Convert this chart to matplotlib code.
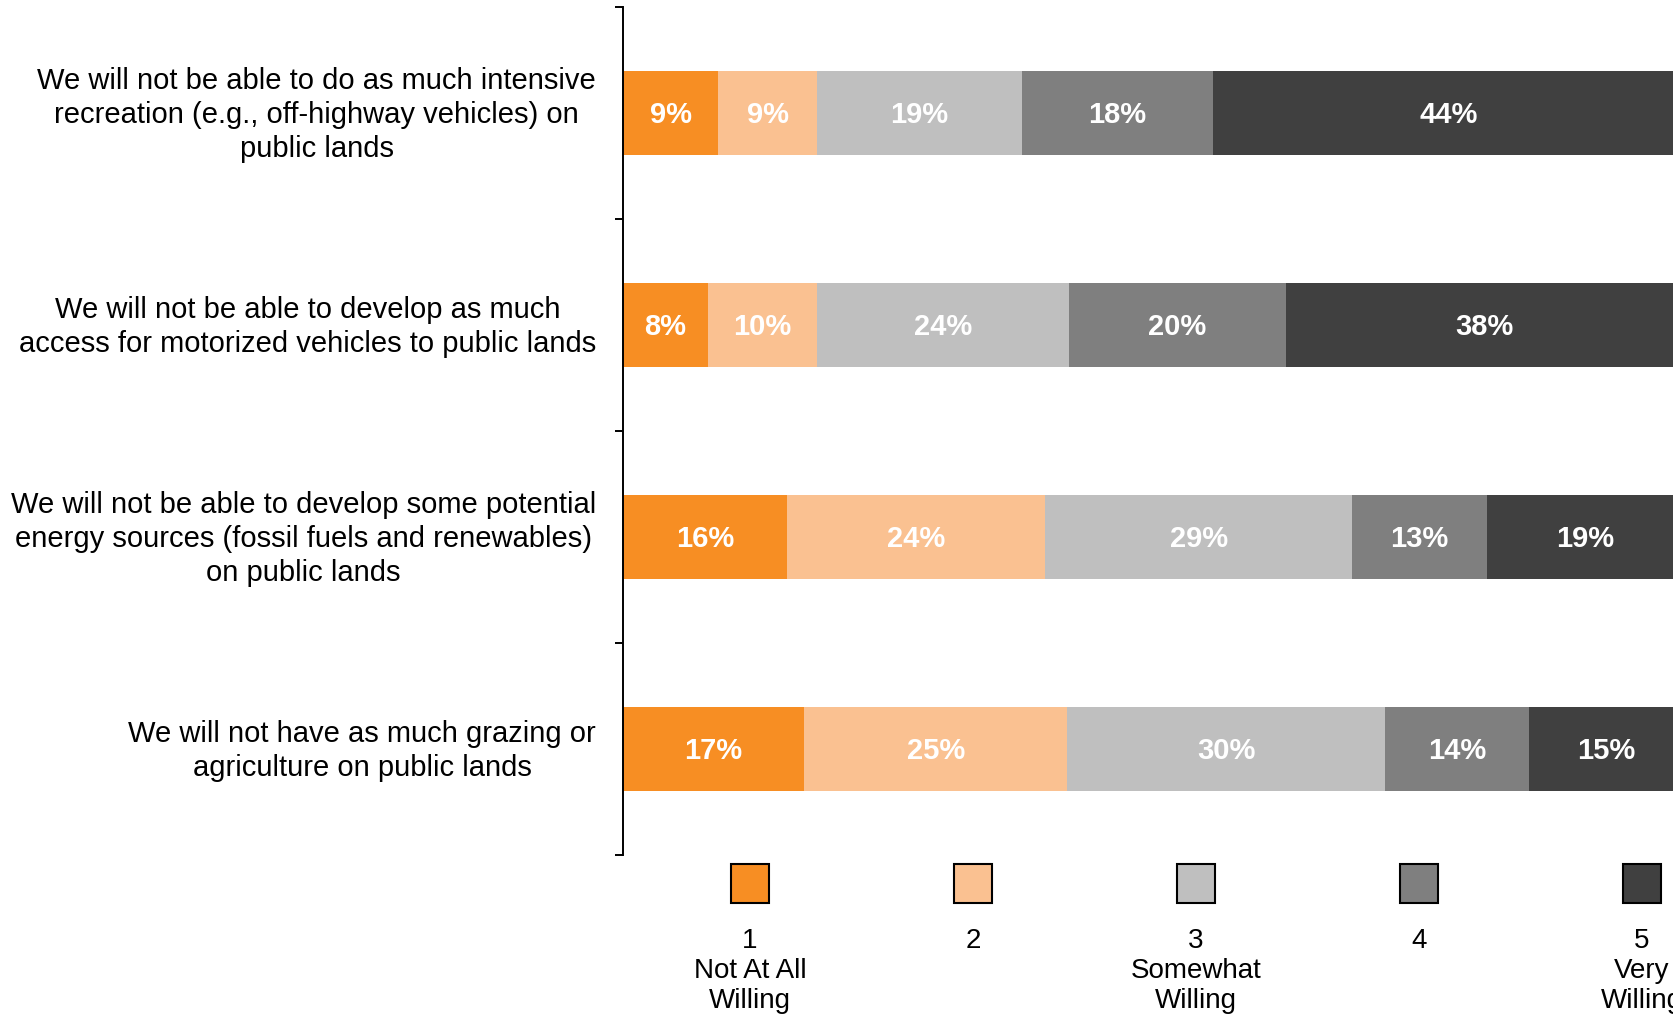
import matplotlib
matplotlib.use("Agg")
import matplotlib.pyplot as plt
from matplotlib.patches import Rectangle
import numpy as np

plt.rcParams['font.family'] = ['Liberation Sans', 'DejaVu Sans']

categories = [
    "We will not be able to do as much intensive\nrecreation (e.g., off-highway vehicles) on\npublic lands",
    "We will not be able to develop as much\naccess for motorized vehicles to public lands",
    "We will not be able to develop some potential\nenergy sources (fossil fuels and renewables)\non public lands",
    "We will not have as much grazing or\nagriculture on public lands",
]
levels = ["1\nNot At All\nWilling", "2", "3\nSomewhat\nWilling", "4", "5\nVery\nWilling"]
colors = ["#F78E23", "#FAC191", "#BFBFBF", "#7F7F7F", "#404040"]

# percent of respondents per level (rows = categories, cols = levels 1..5)
level1 = [9.0, 8.0, 15.5, 17.1]
level2 = [9.3, 10.3, 24.3, 24.8]
level3 = [19.3, 23.8, 29.0, 30.0]
level4 = [18.1, 20.4, 12.7, 13.6]
level5 = [44.3, 37.6, 18.6, 14.6]
series = [level1, level2, level3, level4, level5]

W, H = 1673, 1015
fig = plt.figure(figsize=(W / 100, H / 100), dpi=100)
ax = fig.add_axes([623 / W, (H - 855) / H, 1060 / W, 848 / H])

y = np.arange(len(categories)) + 0.5
left = np.zeros(len(categories))
for vals, col in zip(series, colors):
    vals = np.array(vals)
    ax.barh(y, vals, left=left, height=0.4, color=col, edgecolor='none')
    for yi, l, v in zip(y, left, vals):
        ax.text(l + v / 2, yi + 0.01, f"{v:.0f}%", ha='center', va='center',
                color='white', fontsize=21, fontweight='bold')
    left = left + vals

ax.set_xlim(0, 100)
ax.set_ylim(4, 0)
ax.set_yticks(np.arange(5))
ax.set_yticklabels([])
ax.set_xticks([])
for s in ['top', 'right', 'bottom']:
    ax.spines[s].set_visible(False)
ax.spines['left'].set_linewidth(1.4)
ax.tick_params(axis='y', direction='out', length=6, width=1.4)

for yi, cat in zip(y, categories):
    ax.text(-27 / 1060, yi + 0.01, cat, transform=ax.get_yaxis_transform(),
            ha='right', va='center', multialignment='center',
            fontsize=21, color='black', linespacing=1.27)

# legend
centers = [750, 973, 1196, 1419, 1642]
for cx, col, lab in zip(centers, colors, levels):
    fig.add_artist(Rectangle(((cx - 19) / W, (H - 903) / H), 38 / W, 39 / H,
                             facecolor=col, edgecolor='black', linewidth=1.5,
                             transform=fig.transFigure))
    fig.text(cx / W, (H - 928) / H, lab, ha='center', va='top',
             multialignment='center', fontsize=20, linespacing=1.19)

fig.savefig("out.png", dpi=100)
